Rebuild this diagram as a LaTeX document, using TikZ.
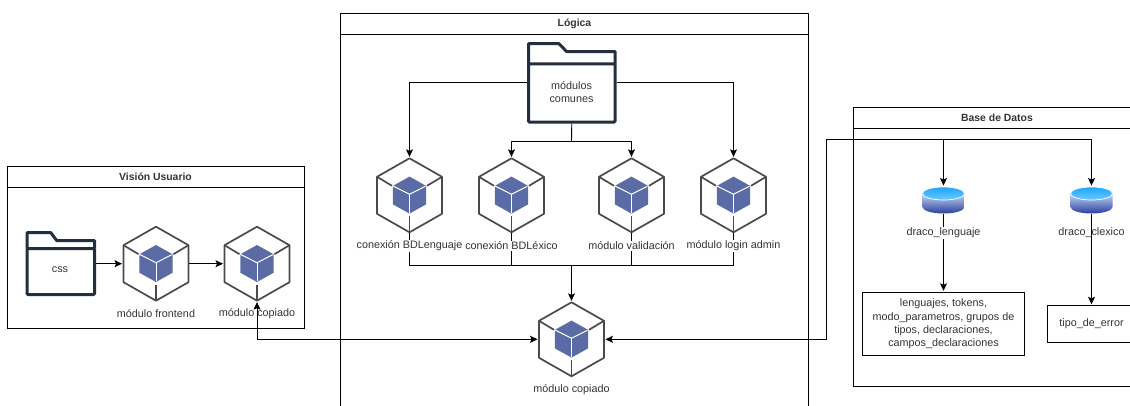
\documentclass[tikz,border=0pt]{standalone}
\usepackage{fontspec}
\setmainfont{Liberation Sans}
\usepackage{tikz}
\usetikzlibrary{positioning}
\usetikzlibrary{arrows.meta}

\definecolor{foldernavy}{HTML}{232F3E}
\definecolor{cubegray}{HTML}{4A4A4A}
\definecolor{cubeblue}{HTML}{5A6BA5}
\definecolor{textgray}{HTML}{333333}
\definecolor{drumtopa}{HTML}{1EA6FF}
\definecolor{drumtopb}{HTML}{6CC8FF}
\definecolor{drumsidea}{HTML}{C4D6F6}
\definecolor{drumsideb}{HTML}{2A3F9E}

% module cube: name, x, y
\newcommand{\modulecube}[3]{
    \node[cubebox] (#1) at (#2,#3) {};
    \begin{scope}[shift={(#2,#3)},-]
        \draw[cubeline] (0,-37) -- (32.5,-18.5) -- (32.5,18.5) -- (0,37) -- (-32.5,18.5) -- (-32.5,-18.5) -- cycle;
        \draw[cubeline] (-32.5,-18.5) -- (-17.5,-9.5);
        \draw[cubeline] (32.5,-18.5) -- (17.5,-9.5);
        \draw[cubeline] (0,37) -- (0,21);
        \fill[cubeblue] (0,-18.7) -- (16.7,-9.4) -- (16.7,9) -- (0,18.3) -- (-16.7,9) -- (-16.7,-9.4) -- cycle;
        \draw[white,line width=1pt] (-16.7,-9.4) -- (0,-1) -- (16.7,-9.4);
        \draw[white,line width=1pt] (0,-1) -- (0,18.3);
    \end{scope}
}

% folder: name, left, top, right, bottom
\newcommand{\folderbox}[5]{
    \node[folderbody] (#1) at ({(#2+#4)/2},{(#3+#5+0.26*(#5-#3))/2}) [minimum width=#4pt-#2pt,minimum height=0.74*(#5pt-#3pt)] {};
    \draw[folderline,-] (#2,{#3+0.26*(#5-#3)}) -- (#2,#3) -- ({#2+0.35*(#4-#2)},#3) -- ({#2+0.44*(#4-#2)},#3+8) -- (#4,#3+8) -- (#4,{#3+0.26*(#5-#3)});
}

% database: name, x, y
\newcommand{\databasedrum}[3]{
    \node[drumbox] (#1) at (#2,#3) {};
    \begin{scope}[shift={(#2,#3)},-]
        \shade[top color=drumsidea,bottom color=drumsideb] (-21,-7) -- (-21,6.5) arc (180:0:21 and 6.5) -- (21,-7) -- cycle;
        \shade[top color=drumtopa,bottom color=drumtopb,draw=white,line width=0.7pt] (0,-7) ellipse (21 and 6.5);
    \end{scope}
}

\begin{document}
\begin{tikzpicture}[->,>={Stealth[length=7.5pt,width=7pt,inset=1.5pt]},x=1pt,y=-1pt,font=\fontsize{10.8}{13.2}\selectfont,line width=0.9pt,shorten >=1pt]
    \tikzstyle{cubebox}=[minimum width=65pt, minimum height=74pt, inner sep=0pt]
    \tikzstyle{cubeline}=[cubegray, line width=1.7pt, line join=round, shorten >=0pt]
    \tikzstyle{folderbody}=[draw=foldernavy, line width=3pt, rounded corners=1pt, inner sep=0pt]
    \tikzstyle{folderline}=[foldernavy, line width=3pt, line join=round, shorten >=0pt]
    \tikzstyle{drumbox}=[minimum width=42pt, minimum height=27pt, inner sep=0pt]
    \tikzstyle{lane}=[draw, inner sep=0pt]
    \tikzstyle{lanehead}=[draw, inner sep=0pt, font=\fontsize{10.4}{13.2}\selectfont\bfseries, text=textgray]
    \tikzstyle{caption}=[text=textgray, inner sep=1pt]
    \tikzstyle{tablebox}=[draw, inner sep=0pt, align=center, text=textgray]
    \useasboundingbox (0,0) rectangle (1130,405);
    \clip (0,0) rectangle (1130,405);

    % Vision Usuario
    \node[lane, minimum width=297pt, minimum height=162pt] (vision) at (155.5,247.5) {};
    \node[lanehead, minimum width=297pt, minimum height=20.5pt] (visionhead) at (155.5,176.9) {Visión Usuario};
    \folderbox{css}{27}{232.5}{94.5}{294.5}
    \node[caption] (csslabel) at (60,270) {css};
    \modulecube{frontend}{156}{263.7}
    \modulecube{copiadoA}{257}{263.7}
    \node[caption] (frontendlabel) at (156,314) {módulo frontend};
    \node[caption] (copiadoAlabel) at (257,314) {módulo copiado};

    % Logica
    \node[lane, minimum width=468pt, minimum height=420pt] (logica) at (574.5,223.5) {};
    \node[lanehead, minimum width=468pt, minimum height=20.5pt] (logicahead) at (574.5,23.7) {Lógica};
    \folderbox{comunes}{528.5}{43.5}{615}{122}
    \node[caption, align=center] (comuneslabel) at (571.5,92) {módulos\\comunes};
    \modulecube{lenguaje}{409.5}{195.3}
    \modulecube{lexico}{511.5}{195.3}
    \modulecube{validacion}{631.5}{195.3}
    \modulecube{login}{733.5}{195.3}
    \modulecube{copiadoB}{571.5}{339.3}
    \node[caption] (copiadoBlabel) at (571.5,390) {módulo copiado};
    \coordinate (comunesmid) at (571.5,82.5);
    \coordinate (splitdown) at (571.5,141.5);
    \coordinate (merge) at (571.5,265.5);

    % Base de Datos
    \node[lane, minimum width=300pt, minimum height=279pt] (datos) at (1003.5,247) {};
    \node[lanehead, minimum width=300pt, minimum height=21pt] (datoshead) at (1003.5,118) {};
    \node[text=textgray, font=\fontsize{10.4}{13.2}\selectfont\bfseries, inner sep=0pt] (datostitle) at (997,118) {Base de Datos};
    \databasedrum{dracoleng}{943.5}{200.5}
    \databasedrum{dracolex}{1091.5}{200.5}
    \node[tablebox, minimum width=162pt, minimum height=63.5pt] (tablas) at (943.5,324) {lenguajes, tokens,\\modo\_parametros, grupos de\\tipos, declaraciones,\\campos\_declaraciones};
    \node[tablebox, minimum width=89pt, minimum height=36.5pt] (errores) at (1091.5,324) {tipo\_de\_error};
    \coordinate (busturn) at (826.5,139.5);

    % connectors
    \draw (css.east |- frontend) -- (frontend);
    \draw (frontend) -- (copiadoA);
    \draw[<->,shorten <=1pt] (copiadoA.south) |- (copiadoB.west);
    \draw (comunes.west |- comunesmid) -| (lenguaje.north);
    \draw (comunes.east |- comunesmid) -| (login.north);
    \draw[-,shorten >=0pt] (comunes.south) -- (splitdown);
    \draw (splitdown) -| (lexico.north);
    \draw (splitdown) -| (validacion.north);
    \draw[-,shorten >=0pt] (lenguaje.south) |- (merge);
    \draw[-,shorten >=0pt] (lexico.south) |- (merge);
    \draw[-,shorten >=0pt] (validacion.south) |- (merge);
    \draw[-,shorten >=0pt] (login.south) |- (merge);
    \draw (merge) -- (copiadoB.north);
    \draw[<->,shorten <=1pt] (copiadoB.east) -| (busturn) -| (dracoleng.north);
    \draw (busturn) -| (dracolex.north);
    \draw (dracoleng.south) -- (tablas.north);
    \draw (dracolex.south) -- (errores.north);

    % labels over the connectors
    \node[caption, fill=white] (lenguajelabel) at (409.5,246) {conexión BDLenguaje};
    \node[caption, fill=white] (lexicolabel) at (511.5,246) {conexión BDLéxico};
    \node[caption, fill=white] (validacionlabel) at (631.5,246) {módulo validación};
    \node[caption, fill=white] (loginlabel) at (733.5,246) {módulo login admin};
    \node[caption, fill=white] (dracolenglabel) at (943.5,233) {draco\_lenguaje};
    \node[caption] (dracolexlabel) at (1091.5,233) {draco\_clexico};
\end{tikzpicture}
\end{document}
